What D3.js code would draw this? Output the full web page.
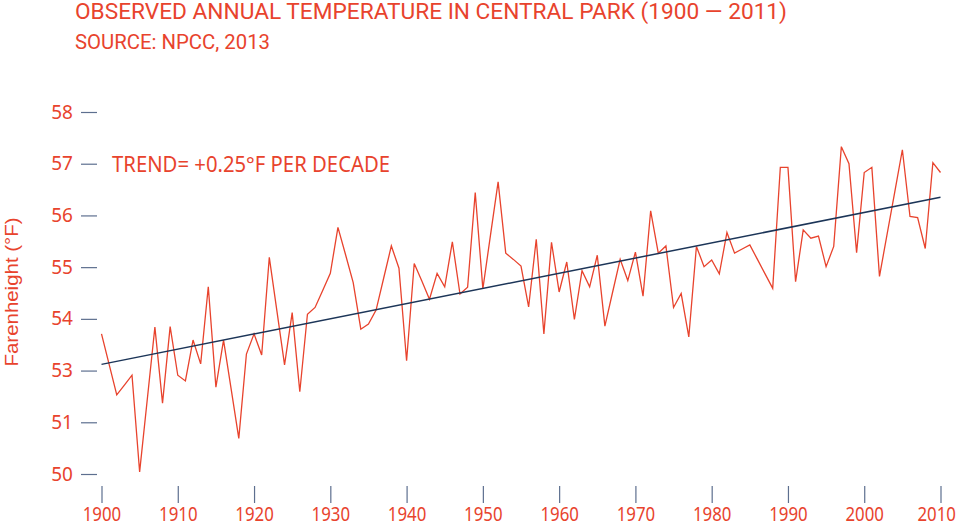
<!DOCTYPE html>
<html>
<head>
<meta charset="utf-8">
<script src="https://cdn.jsdelivr.net/npm/d3@7"></script>
<style>
  html, body { margin: 0; padding: 0; background: #ffffff; }
  svg { display: block; }
</style>
</head>
<body>
<svg id="chart" width="960" height="529"></svg>
<script>
// ---- data ----
const years = d3.range(1900, 2011);
const temps = [
  53.71, 53.12, 52.53, 52.72, 52.91, 51.04, 52.44, 53.84, 52.37, 53.85,
  52.91, 52.80, 53.59, 53.13, 54.62, 52.68, 53.59, 52.64, 51.69, 53.32,
  53.71, 53.30, 55.19, 54.15, 53.11, 54.12, 52.59, 54.09, 54.22, 54.55,
  54.88, 55.77, 55.24, 54.70, 53.80, 53.90, 54.17, 54.79, 55.41, 54.98,
  53.19, 55.07, 54.73, 54.38, 54.88, 54.62, 55.49, 54.48, 54.61, 56.44,
  54.58, 55.62, 56.65, 55.27, 55.15, 55.02, 54.23, 55.54, 53.71, 55.48,
  54.52, 55.10, 53.99, 54.93, 54.62, 55.23, 53.86, 54.51, 55.15, 54.74,
  55.29, 54.44, 56.09, 55.27, 55.41, 54.22, 54.49, 53.65, 55.40, 55.01,
  55.14, 54.87, 55.67, 55.27, 55.35, 55.43, 55.15, 54.87, 54.59, 56.93,
  56.93, 54.72, 55.72, 55.56, 55.60, 55.01, 55.40, 57.33, 57.00, 55.28,
  56.83, 56.93, 54.82, 55.64, 56.45, 57.27, 55.98, 55.96, 55.36, 57.02,
  56.83
];
const trendYears = [1900, 2010];
const trendValues = [53.12, 56.35];
const xTickValues = d3.range(1900, 2011, 10);
const yTickValues = [51, 52, 53, 54, 55, 56, 57, 58];
const yTickLabels = ["50", "51", "53", "54", "55", "56", "57", "58"];
const titleText = "OBSERVED ANNUAL TEMPERATURE IN CENTRAL PARK (1900 \u2014 2011)";
const subtitleText = "SOURCE: NPCC, 2013";
const trendText = "TREND= +0.25\u00B0F PER DECADE";
const yTitleText = "Farenheight (\u00B0F)";

// ---- styles ----
const RED = "#e8432d";
const NAVY = "#1c3558";
const TICK = "#5d6f8f";

const svg = d3.select("#chart");

const x = d3.scaleLinear().domain([1900, 2010]).range([101.5, 940.5]);
const y = d3.scaleLinear().domain([51, 58]).range([474, 112]);

// titles
svg.append("text")
  .attr("x", 75).attr("y", 19)
  .attr("textLength", 712).attr("lengthAdjust", "spacingAndGlyphs")
  .style("font-family", "'Liberation Sans Narrow', 'Roboto', sans-serif")
  .style("font-size", "22px").style("fill", RED)
  .text(titleText);

svg.append("text")
  .attr("x", 75).attr("y", 49)
  .attr("textLength", 195).attr("lengthAdjust", "spacingAndGlyphs")
  .style("font-family", "'Liberation Sans Narrow', 'Roboto', sans-serif")
  .style("font-size", "20px").style("fill", RED)
  .text(subtitleText);

// y axis
const yAxis = d3.axisLeft(y)
  .tickValues(yTickValues)
  .tickSize(16)
  .tickPadding(8)
  .tickFormat((d, i) => yTickLabels[i]);

const gy = svg.append("g").attr("transform", "translate(97,0)").call(yAxis);
gy.select(".domain").remove();
gy.selectAll(".tick line").attr("stroke", TICK).attr("stroke-width", 1.2);
gy.selectAll(".tick text")
  .style("font-family", "'Noto Sans', 'Open Sans', sans-serif")
  .style("font-size", "19px").style("fill", RED);

// x axis
const xAxis = d3.axisBottom(x)
  .tickValues(xTickValues)
  .tickSize(17)
  .tickPadding(4)
  .tickFormat(d3.format("d"));

const gx = svg.append("g").attr("transform", "translate(0,486)").call(xAxis);
gx.select(".domain").remove();
gx.selectAll(".tick line").attr("stroke", TICK).attr("stroke-width", 1.2);
gx.selectAll(".tick text")
  .attr("textLength", 38.5).attr("lengthAdjust", "spacingAndGlyphs")
  .style("font-family", "'Noto Sans', 'Open Sans', sans-serif")
  .style("font-size", "20px").style("fill", RED);
// keep the last label inside the picture's right edge
gx.selectAll(".tick text").filter(d => d === xTickValues[xTickValues.length - 1])
  .attr("text-anchor", "end").attr("x", 15);

// y title
svg.append("text")
  .attr("transform", "translate(18,292) rotate(-90)")
  .attr("text-anchor", "middle")
  .attr("textLength", 149).attr("lengthAdjust", "spacingAndGlyphs")
  .style("font-family", "'Liberation Sans', 'Noto Sans', sans-serif")
  .style("font-size", "18px").style("fill", RED)
  .text(yTitleText);

// trend label
svg.append("text")
  .attr("x", 112).attr("y", 172)
  .attr("textLength", 278).attr("lengthAdjust", "spacingAndGlyphs")
  .style("font-family", "'Noto Sans', 'Open Sans', sans-serif")
  .style("font-size", "22px").style("fill", RED)
  .text(trendText);

// data line
const series = years.map((yr, i) => ({ year: yr, value: temps[i] }));
const line = d3.line().x(d => x(d.year)).y(d => y(d.value));

svg.append("path")
  .datum(series)
  .attr("d", line)
  .attr("fill", "none")
  .attr("stroke", RED)
  .attr("stroke-width", 1.3)
  .attr("stroke-linejoin", "miter");

// trend line
const trend = trendYears.map((yr, i) => ({ year: yr, value: trendValues[i] }));
svg.append("path")
  .datum(trend)
  .attr("d", line)
  .attr("fill", "none")
  .attr("stroke", NAVY)
  .attr("stroke-width", 1.5);
</script>
</body>
</html>
